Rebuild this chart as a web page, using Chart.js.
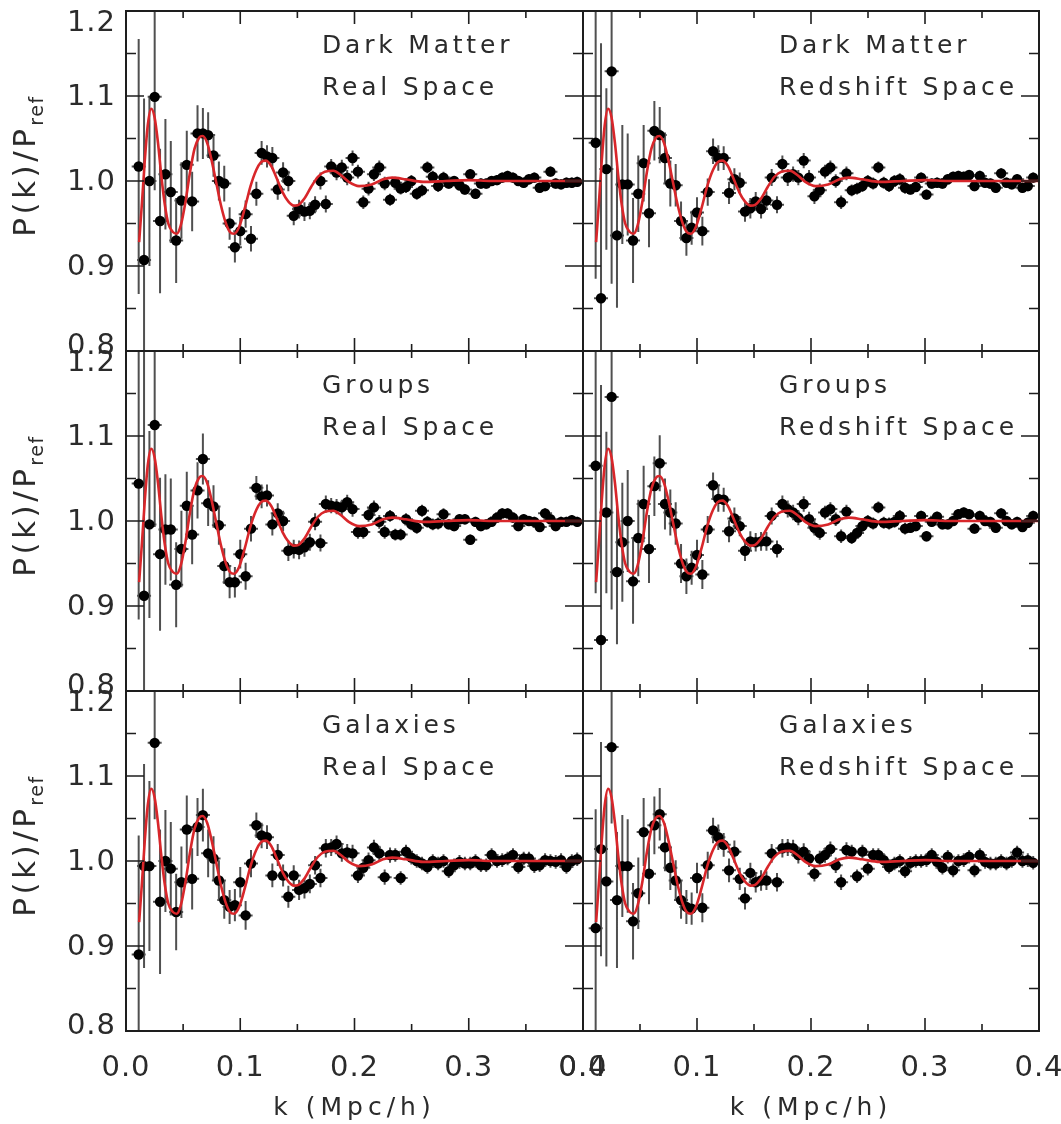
<!DOCTYPE html>
<html><head><meta charset="utf-8">
<script src="https://cdn.jsdelivr.net/npm/chart.js@4.4.1/dist/chart.umd.min.js"></script>
<style>
html,body{margin:0;padding:0;background:#fff;}
#fig{position:relative;width:1061px;height:1124px;overflow:hidden;background:#fff;}
#fig canvas{position:absolute;left:0;top:0;}
.t{position:absolute;font-family:"DejaVu Sans",sans-serif;font-size:25px;line-height:30px;color:#2b2b2b;letter-spacing:3.8px;white-space:nowrap;}
.yt{transform:translate(-50%,-50%) rotate(-90deg);font-size:31px;letter-spacing:3.5px;line-height:34px;}
.xt{transform:translateX(-50%);letter-spacing:5px;}
.yt sub{font-size:19px;vertical-align:baseline;position:relative;top:8px;letter-spacing:1.5px;}
</style></head><body><div id="fig"></div>
<script>
// ---- data ----
const kBins = [0.0111,0.0158,0.0205,0.0251,0.0298,0.0345,0.0392,0.0439,0.0485,0.0532,
0.0579,0.0626,0.0673,0.0719,0.0766,0.0813,0.0860,0.0907,0.0953,0.1000,
0.1047,0.1094,0.1141,0.1187,0.1234,0.1281,0.1328,0.1375,0.1421,0.1468,
0.1515,0.1562,0.1609,0.1655,0.1702,0.1749,0.1796,0.1843,0.1889,0.1936,
0.1983,0.2030,0.2077,0.2123,0.2170,0.2217,0.2264,0.2311,0.2357,0.2404,
0.2451,0.2498,0.2545,0.2591,0.2638,0.2685,0.2732,0.2779,0.2825,0.2872,
0.2919,0.2966,0.3013,0.3059,0.3106,0.3153,0.3200,0.3247,0.3293,0.3340,
0.3387,0.3434,0.3481,0.3527,0.3574,0.3621,0.3668,0.3715,0.3761,0.3808,
0.3855,0.3902,0.3949];

const dmReal = [1.017,0.907,1.000,1.099,0.953,1.008,0.987,0.930,0.977,1.019,
0.976,1.056,1.056,1.054,1.030,1.000,0.997,0.950,0.922,0.941,
0.961,0.932,0.985,1.033,1.029,1.027,0.990,1.010,1.000,0.959,
0.967,0.964,0.965,0.972,1.000,0.973,1.017,1.010,1.016,1.004,
1.027,1.011,0.975,0.991,1.008,1.016,0.997,0.978,0.998,0.991,
0.993,1.000,0.985,0.989,1.016,1.005,0.994,1.004,0.997,1.000,
0.995,0.990,1.008,0.985,0.997,0.997,1.000,1.001,1.004,1.006,
1.004,1.000,0.998,1.002,1.004,0.992,0.994,1.011,0.997,0.996,
0.998,0.998,0.999];
const dmRed = [1.045,0.862,1.014,1.129,0.936,0.996,0.996,0.930,0.985,1.021,
0.962,1.059,1.054,1.027,0.997,0.995,0.953,0.933,0.945,0.963,
0.941,0.987,1.035,1.027,1.027,0.986,1.002,0.998,0.964,0.968,
0.976,0.967,0.977,1.004,0.972,1.020,1.004,1.008,1.004,1.024,
1.004,0.982,0.989,1.011,1.016,1.000,0.975,1.009,0.989,0.991,
0.994,1.000,0.997,1.016,0.998,0.994,1.000,1.002,0.992,0.990,
0.993,1.004,0.984,0.997,0.998,0.997,1.002,1.005,1.006,1.005,
1.007,0.994,1.006,0.998,0.997,0.992,1.009,0.998,0.996,1.002,
0.992,0.994,1.004];
const grReal = [1.044,0.912,0.996,1.113,0.961,0.990,0.990,0.925,0.967,1.018,
0.984,1.036,1.073,1.021,1.017,0.995,0.947,0.928,0.928,0.961,
0.935,0.991,1.039,1.029,1.030,0.996,1.009,1.000,0.965,0.967,
0.966,0.969,0.975,0.999,0.974,1.020,1.018,1.017,1.016,1.022,
1.014,0.987,0.987,1.007,1.016,0.999,0.987,1.006,0.984,0.984,
1.002,0.996,0.992,1.012,0.999,0.996,0.997,1.008,0.996,0.994,
1.002,1.002,0.978,0.999,0.994,0.996,0.999,1.004,1.009,1.009,
1.004,0.994,1.002,1.000,0.999,0.993,1.009,1.002,0.994,0.999,
0.999,1.001,0.999];
const grRed = [1.065,0.860,1.010,1.146,0.940,0.975,1.000,0.929,0.980,1.020,
0.967,1.041,1.068,1.020,1.010,0.997,0.950,0.935,0.945,0.960,
0.937,0.990,1.042,1.026,1.025,0.988,1.003,0.994,0.965,0.976,
0.975,0.976,0.976,1.006,0.967,1.020,1.014,1.010,1.004,1.020,
1.002,0.992,0.986,1.010,1.014,1.002,0.982,1.011,0.980,0.986,
0.994,1.000,0.997,1.016,0.998,0.997,0.999,1.006,0.991,0.992,
0.994,1.006,0.982,0.999,1.005,0.996,0.996,1.000,1.008,1.010,
1.008,0.991,1.006,1.000,0.999,0.992,1.009,1.000,0.996,0.999,
0.993,0.998,1.006];
const galReal = [0.890,0.994,0.994,1.139,0.952,1.000,0.991,0.940,0.975,1.037,
0.979,1.040,1.054,1.009,1.003,0.977,0.954,0.946,0.948,0.975,
0.936,0.997,1.042,1.030,1.028,0.983,1.007,0.983,0.958,0.983,
0.966,0.968,0.973,0.995,0.980,1.015,1.016,1.020,1.009,1.010,
1.009,0.983,0.992,1.001,1.016,1.009,0.981,1.007,1.007,0.980,
1.011,1.004,1.000,0.997,0.993,1.000,0.997,1.000,0.988,0.995,
0.999,0.997,0.997,1.000,0.995,0.995,1.007,1.000,1.001,1.003,
1.007,0.993,1.003,1.003,0.994,0.995,1.001,1.000,0.999,1.001,
0.993,1.000,1.002];
const galRed = [0.921,1.014,0.976,1.134,0.954,0.994,0.994,0.929,0.962,1.034,
0.985,1.042,1.055,1.016,0.992,0.977,0.954,0.946,0.944,0.980,
0.945,0.995,1.036,1.028,1.019,0.989,1.011,0.979,0.956,0.986,
0.975,0.977,0.977,1.009,0.975,1.015,1.016,1.015,1.007,1.011,
1.003,0.985,1.003,1.007,1.014,0.995,0.975,1.013,1.011,0.982,
1.011,0.991,1.007,1.007,1.001,0.993,0.997,1.000,0.988,0.998,
1.000,1.000,1.001,1.007,0.999,0.992,1.005,0.989,1.000,1.001,
1.005,0.989,1.007,0.999,0.997,0.997,1.000,0.997,1.000,1.010,
1.000,1.001,0.998];

const errDmReal = [0.15,0.19,0.10,0.11,0.085,0.065,0.06,0.05,0.045,0.04,
0.035,0.033,0.03,0.027,0.025,0.023,0.021,0.019,0.018,0.017,
0.016,0.015,0.014,0.014,0.013,0.013,0.012,0.012,0.012,0.011,
0.011,0.011,0.010,0.010,0.010,0.010,0.009,0.009,0.009,0.009,
0.009,0.008,0.008,0.008,0.008,0.008,0.008,0.007,0.007,0.007,
0.007,0.007,0.007,0.007,0.007,0.007,0.007,0.007,0.006,0.006,
0.006,0.006,0.006,0.006,0.006,0.006,0.006,0.006,0.006,0.006,
0.006,0.006,0.006,0.006,0.006,0.006,0.006,0.006,0.006,0.006,
0.006,0.006,0.006];
const errDmRed = [0.16,0.30,0.095,0.25,0.085,0.07,0.06,0.05,0.045,0.045,
0.04,0.035,0.033,0.03,0.027,0.025,0.023,0.021,0.02,0.018,
0.017,0.016,0.015,0.015,0.014,0.013,0.013,0.012,0.012,0.012,
0.011,0.011,0.011,0.010,0.010,0.010,0.010,0.009,0.009,0.009,
0.009,0.009,0.008,0.008,0.008,0.008,0.008,0.008,0.007,0.007,
0.007,0.007,0.007,0.007,0.007,0.007,0.007,0.007,0.007,0.006,
0.006,0.006,0.006,0.006,0.006,0.006,0.006,0.006,0.006,0.006,
0.006,0.006,0.006,0.006,0.006,0.006,0.006,0.006,0.006,0.006,
0.006,0.006,0.006];
const errGrReal = [0.16,0.30,0.11,0.12,0.09,0.065,0.06,0.05,0.045,0.04,
0.035,0.033,0.03,0.027,0.025,0.023,0.021,0.019,0.018,0.017,
0.016,0.015,0.014,0.014,0.013,0.013,0.012,0.012,0.012,0.011,
0.011,0.011,0.010,0.010,0.010,0.010,0.009,0.009,0.009,0.009,
0.009,0.008,0.008,0.008,0.008,0.008,0.008,0.007,0.007,0.007,
0.007,0.007,0.007,0.007,0.007,0.007,0.007,0.007,0.006,0.006,
0.006,0.006,0.006,0.006,0.006,0.006,0.006,0.006,0.006,0.006,
0.006,0.006,0.006,0.006,0.006,0.006,0.006,0.006,0.006,0.006,
0.006,0.006,0.006];
const errGrRed = [0.15,0.30,0.095,0.25,0.085,0.07,0.06,0.05,0.045,0.045,
0.04,0.035,0.033,0.03,0.027,0.025,0.023,0.021,0.02,0.018,
0.017,0.016,0.015,0.015,0.014,0.013,0.013,0.012,0.012,0.012,
0.011,0.011,0.011,0.010,0.010,0.010,0.010,0.009,0.009,0.009,
0.009,0.009,0.008,0.008,0.008,0.008,0.008,0.008,0.007,0.007,
0.007,0.007,0.007,0.007,0.007,0.007,0.007,0.007,0.007,0.006,
0.006,0.006,0.006,0.006,0.006,0.006,0.006,0.006,0.006,0.006,
0.006,0.006,0.006,0.006,0.006,0.006,0.006,0.006,0.006,0.006,
0.006,0.006,0.006];
const errGalReal = [0.14,0.12,0.10,0.09,0.085,0.06,0.055,0.045,0.042,0.04,
0.036,0.034,0.031,0.028,0.026,0.024,0.022,0.02,0.019,0.018,
0.017,0.016,0.015,0.015,0.014,0.014,0.013,0.013,0.013,0.012,
0.012,0.012,0.011,0.011,0.011,0.011,0.010,0.010,0.010,0.010,
0.010,0.009,0.009,0.009,0.009,0.009,0.009,0.009,0.008,0.008,
0.008,0.008,0.008,0.008,0.008,0.008,0.008,0.008,0.008,0.008,
0.008,0.008,0.008,0.008,0.008,0.008,0.008,0.008,0.008,0.008,
0.008,0.008,0.008,0.008,0.008,0.008,0.008,0.008,0.008,0.008,
0.008,0.008,0.008];
const errGalRed = [0.14,0.126,0.10,0.09,0.08,0.06,0.055,0.045,0.042,0.04,
0.036,0.034,0.031,0.028,0.026,0.024,0.022,0.02,0.019,0.018,
0.017,0.016,0.015,0.015,0.014,0.014,0.013,0.013,0.013,0.012,
0.012,0.012,0.011,0.011,0.011,0.011,0.010,0.010,0.010,0.010,
0.010,0.009,0.009,0.009,0.009,0.009,0.009,0.009,0.008,0.008,
0.008,0.008,0.008,0.008,0.008,0.008,0.008,0.008,0.008,0.008,
0.008,0.008,0.008,0.008,0.008,0.008,0.008,0.008,0.008,0.008,
0.008,0.008,0.008,0.008,0.008,0.008,0.008,0.008,0.008,0.008,
0.008,0.008,0.008];

const modelK = [0.0115,0.0140,0.0165,0.0190,0.0220,0.0250,0.0280,0.0310,0.0340,0.0370,
0.0410,0.0445,0.0480,0.0520,0.0560,0.0600,0.0640,0.0670,0.0710,0.0750,
0.0790,0.0830,0.0870,0.0910,0.0945,0.0990,0.1040,0.1090,0.1140,0.1180,
0.1222,0.1270,0.1320,0.1370,0.1420,0.1470,0.1510,0.1560,0.1620,0.1680,
0.1740,0.1815,0.1880,0.1950,0.2040,0.2150,0.2250,0.2330,0.2450,0.2600,
0.2800,0.3000,0.3200,0.3400,0.3600,0.3800,0.4000];
const modelP = [0.928,0.975,1.025,1.065,1.085,1.075,1.045,1.005,0.972,0.950,
0.940,0.938,0.948,0.975,1.010,1.038,1.051,1.053,1.045,1.024,
0.998,0.972,0.952,0.940,0.938,0.946,0.968,0.994,1.013,1.022,
1.024,1.018,1.003,0.987,0.976,0.971,0.972,0.979,0.993,1.005,
1.011,1.012,1.007,0.999,0.994,0.996,1.002,1.004,1.002,0.999,
1.000,1.001,1.000,1.000,1.000,1.000,1.000];

const xMajor = [0, 0.1, 0.2, 0.3, 0.4];
const xMinor = [0.05, 0.15, 0.25, 0.35];
const yMajor = [0.8, 0.9, 1.0, 1.1, 1.2];
const yMinor = [0.85, 0.95, 1.05, 1.15];

const titleTop = ['Dark Matter','Dark Matter','Groups','Groups','Galaxies','Galaxies'];
const titleBottom = ['Real Space','Redshift Space','Real Space','Redshift Space','Real Space','Redshift Space'];
const panelValues = [dmReal, dmRed, grReal, grRed, galReal, galRed];
const panelErrors = [errDmReal, errDmRed, errGrReal, errGrRed, errGalReal, errGalRed];
const xTitle = 'k (Mpc/h)';

// ---- layout ----
const W = 1061, H = 1124;
const colX = [[126, 583], [583, 1039]];
const rowY = [[11, 351], [351, 691], [691, 1031]];
const Y_AXIS_W = 60, X_AXIS_H = 60;
const FONT = 'DejaVu Sans';
const INK = '#2b2b2b';
const TICK_FONT = 29;

const framePlugin = {
  id: 'frameTicks',
  beforeDraw(chart) { chart.ctx.letterSpacing = '1px'; },
  beforeDatasetsDraw(chart) {
    const ds = chart.data.datasets[1];
    const { ctx, chartArea: a, scales: { x, y } } = chart;
    ctx.save();
    ctx.beginPath();
    ctx.rect(a.left, a.top, a.right - a.left, a.bottom - a.top);
    ctx.clip();
    ctx.strokeStyle = '#505050';
    ctx.lineWidth = 2;
    ctx.beginPath();
    ds.data.forEach((p, i) => {
      const e = ds.errs[i];
      const px = x.getPixelForValue(p.x);
      ctx.moveTo(px, y.getPixelForValue(p.y - e));
      ctx.lineTo(px, y.getPixelForValue(p.y + e));
      const py = y.getPixelForValue(p.y);
      ctx.moveTo(px - 7, py);
      ctx.lineTo(px + 7, py);
    });
    ctx.stroke();
    ctx.restore();
  },
  afterDatasetsDraw(chart, args, opts) {
    const { ctx, chartArea: a, scales: { x, y } } = chart;
    ctx.save();
    ctx.strokeStyle = '#1e1e1e';
    ctx.lineWidth = 2;
    ctx.strokeRect(a.left, a.top, a.right - a.left, a.bottom - a.top);
    ctx.lineWidth = 1.6;
    ctx.beginPath();
    const xt = (vals, len) => vals.forEach(v => {
      const px = x.getPixelForValue(v);
      ctx.moveTo(px, a.bottom); ctx.lineTo(px, a.bottom - len);
      ctx.moveTo(px, a.top); ctx.lineTo(px, a.top + len);
    });
    const yt = (vals, len) => vals.forEach(v => {
      const py = y.getPixelForValue(v);
      ctx.moveTo(a.left, py); ctx.lineTo(a.left + len, py);
      ctx.moveTo(a.right, py); ctx.lineTo(a.right - len, py);
    });
    xt(xMajor, 13); xt(xMinor, 7);
    yt(yMajor, 18); yt(yMinor, 10);
    ctx.stroke();
    if (opts.yLabels) {
      ctx.font = TICK_FONT + 'px "' + FONT + '"';
      ctx.letterSpacing = '1px';
      ctx.fillStyle = INK;
      ctx.textAlign = 'right';
      ctx.textBaseline = 'middle';
      yMajor.forEach((v, i) => {
        let py = y.getPixelForValue(v);
        if (i === yMajor.length - 1) py += 11;
        if (i === 0) py -= 6;
        ctx.fillText(v.toFixed(1), a.left - 10, py + 1);
      });
    }
    ctx.restore();
  }
};

const fig = document.getElementById('fig');

function addText(txt, left, top, cls) {
  const d = document.createElement('div');
  d.className = 't' + (cls ? ' ' + cls : '');
  d.innerHTML = txt;
  d.style.left = left + 'px';
  d.style.top = top + 'px';
  fig.appendChild(d);
  return d;
}

for (let p = 0; p < 6; p++) {
  const col = p % 2, row = Math.floor(p / 2);
  const showY = col === 0, showX = row === 2;
  const cv = document.createElement('canvas');
  cv.width = W; cv.height = H;
  cv.style.width = W + 'px'; cv.style.height = H + 'px';
  fig.appendChild(cv);
  const vals = panelValues[p];
  new Chart(cv, {
    type: 'scatter',
    data: {
      datasets: [
        {
          data: modelK.map((k, i) => ({ x: k, y: modelP[i] })),
          showLine: true, pointRadius: 0, borderColor: '#d8262a', borderWidth: 2.6,
          cubicInterpolationMode: 'monotone', fill: false
        },
        {
          data: kBins.map((k, i) => ({ x: k, y: vals[i] })),
          errs: panelErrors[p],
          pointRadius: 5.2, pointBackgroundColor: '#000', pointBorderColor: '#000', pointBorderWidth: 0
        }
      ]
    },
    options: {
      responsive: false, animation: false, devicePixelRatio: 1,
      layout: { padding: { left: colX[col][0] - Y_AXIS_W, right: W - colX[col][1], top: rowY[row][0], bottom: H - rowY[row][1] - X_AXIS_H } },
      plugins: { legend: { display: false }, tooltip: { enabled: false }, frameTicks: { yLabels: showY } },
      scales: {
        x: {
          type: 'linear', position: 'bottom', min: 0, max: 0.4,
          grid: { display: false, drawTicks: false }, border: { display: false },
          ticks: { display: showX, stepSize: 0.1, autoSkip: false, maxRotation: 0, padding: 20,
                   callback: v => v.toFixed(1), font: { family: FONT, size: TICK_FONT }, color: INK },
          afterFit: s => { s.height = X_AXIS_H; s.paddingLeft = 0; s.paddingRight = 0; }
        },
        y: {
          type: 'linear', position: 'left', min: 0.8, max: 1.2,
          grid: { display: false, drawTicks: false }, border: { display: false },
          ticks: { display: false, stepSize: 0.1 },
          afterFit: s => { s.width = Y_AXIS_W; s.paddingTop = 0; s.paddingBottom = 0; }
        }
      }
    },
    plugins: [framePlugin]
  });
  addText(titleTop[p], colX[col][0] + 196, rowY[row][0] + 19);
  addText(titleBottom[p], colX[col][0] + 196, rowY[row][0] + 61);
}
for (let row = 0; row < 3; row++) {
  addText('P(k)/P<sub>ref</sub>', 26, (rowY[row][0] + rowY[row][1]) / 2 - 15, 'yt');
}
for (let col = 0; col < 2; col++) {
  addText(xTitle, (colX[col][0] + colX[col][1]) / 2, 1092, 'xt');
}
</script></body></html>
